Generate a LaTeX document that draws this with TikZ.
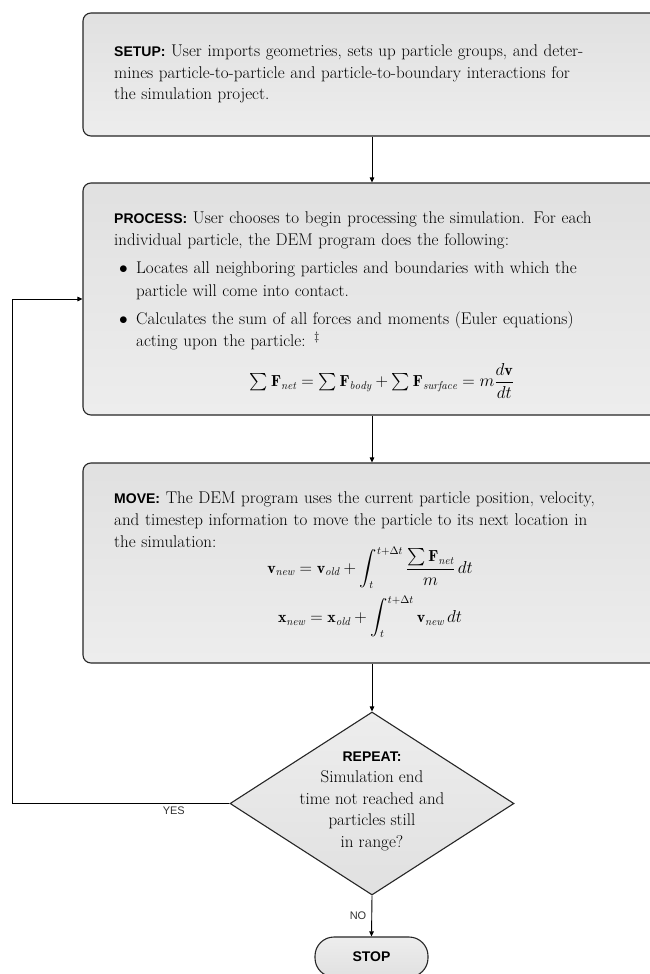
\documentclass[tikz,border=0pt]{standalone}
\usepackage{amsmath}
\usepackage{fontspec}
\newfontfamily\hv{Liberation Sans}
\usetikzlibrary{shapes.geometric,arrows.meta}
\newcommand{\bitem}[1]{\par\vspace{5.5pt}\hangindent=22pt\hangafter=1\noindent\makebox[22pt][l]{\hspace{5pt}$\bullet$}#1\par}
\newcommand{\lbl}[1]{{\hv\bfseries\fontsize{14}{22}\selectfont #1}}
\tikzset{
  box/.style={draw=black!85, line width=1.1pt, rounded corners=8pt,
    top color=black!12, bottom color=black!7,
    minimum width=578pt, inner sep=0pt},
  boxtext/.style={anchor=north west, text width=515pt, inner sep=0pt, align=left},
  eqn/.style={anchor=base, inner sep=0pt, font=\fontsize{16}{20}\selectfont},
  decision/.style={diamond, draw=black!85, line width=1.1pt,
    top color=black!7, bottom color=black!12,
    minimum width=284pt, minimum height=183pt, inner sep=0pt},
  stopbox/.style={draw=black!85, line width=1.1pt, rounded corners=19pt,
    top color=black!7, bottom color=black!12,
    minimum width=113pt, minimum height=40pt, inner sep=0pt},
  conn/.style={draw=black, line width=0.9pt, -{Triangle[length=5pt,width=4.5pt]}},
  lab/.style={font=\hv\fontsize{11}{13}\selectfont, text=black!80},
}
\begin{document}
\begin{tikzpicture}[x=1pt,y=-1pt]
\useasboundingbox (0,0) rectangle (650,974);
\clip (0,0) rectangle (650,974);
\fill[white] (0,0) rectangle (650,974);

% boxes
\node[box, minimum height=123pt] (setup) at (372,74.5) {};
\node[box, minimum height=232pt] (process) at (372,299) {};
\node[box, minimum height=200pt] (move) at (372,563) {};

\node[boxtext, font=\fontsize{17}{21.7}\selectfont] (setuptext) at (114,44.6) {%
\lbl{SETUP:} User imports geometries, sets up particle groups, and deter-\\
mines particle-to-particle and particle-to-boundary interactions for\\
the simulation project.};

\node[boxtext, font=\fontsize{17}{22.5}\selectfont] (processtext) at (114,211.2) {%
\lbl{PROCESS:} User chooses to begin processing the simulation. For each\newline
individual particle, the DEM program does the following:
\bitem{Locates all neighboring particles and boundaries with which the\newline particle will come into contact.}
\bitem{Calculates the sum of all forces and moments (Euler equations)\newline acting upon the particle: $^{\ddagger}$}};

\node[eqn] (processeq) at (382,386.7) {$\sum\mathbf{F}_{\mathit{net}}=\sum\mathbf{F}_{\mathit{body}}+\sum\mathbf{F}_{\mathit{surface}}=m\dfrac{d\mathbf{v}}{dt}$};

\node[boxtext, font=\fontsize{17}{21.7}\selectfont] (movetext) at (114,491.9) {%
\lbl{MOVE:} The DEM program uses the current particle position, velocity,\\
and timestep information to move the particle to its next location in\\
the simulation:};

\node[eqn, font=\fontsize{16}{49.2}\selectfont, align=center] (moveeq) at (370,622.5) {%
$\displaystyle\mathbf{v}_{\mathit{new}}=\mathbf{v}_{\mathit{old}}+\int_t^{t+\Delta t}\frac{\sum\mathbf{F}_{\mathit{net}}}{m}\,dt$\\
$\displaystyle\mathbf{x}_{\mathit{new}}=\mathbf{x}_{\mathit{old}}+\int_t^{t+\Delta t}\mathbf{v}_{\mathit{new}}\,dt$};

% decision and stop
\node[decision] (rep) at (372,803.5) {};
\node[align=center, font=\fontsize{17}{21.5}\selectfont, inner sep=0pt] (reptext) at (372,801) {%
\lbl{REPEAT:}\\Simulation end\\time not reached and\\particles still\\in range?};

\node[stopbox] (stop) at (371.5,957) {\lbl{STOP}};

\coordinate (loop) at (12,803.5);

% connectors
\draw[conn] (setup.south) -- (process.north);
\draw[conn] (process.south) -- (move.north);
\draw[conn] (move.south) -- (rep.north);
\draw[conn] (rep.south) -- node[lab, left, inner sep=5pt] {NO} (stop.north);
\draw[conn] (rep.west) -- node[lab, below, pos=0.256, inner sep=3pt] {YES} (loop) |- (process.west);
\end{tikzpicture}
\end{document}
